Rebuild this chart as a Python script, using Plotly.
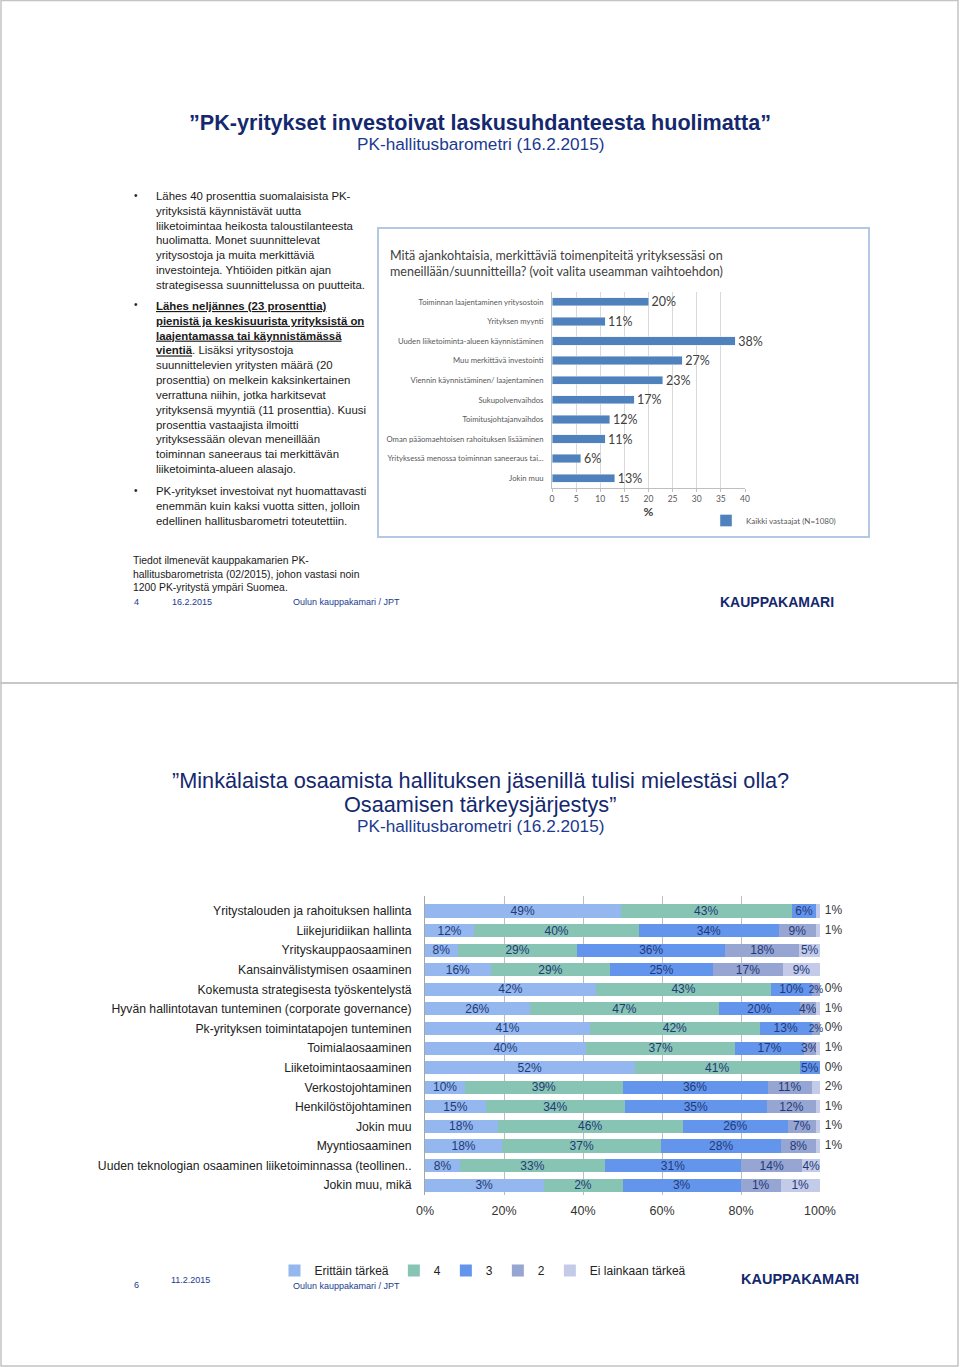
import plotly.graph_objects as go

W, H = 960, 1367

# --- chart 1: current measures ---
measures = [
    "Toiminnan laajentaminen yritysostoin",
    "Yrityksen myynti",
    "Uuden liiketoiminta-alueen käynnistäminen",
    "Muu merkittävä investointi",
    "Viennin käynnistäminen/ laajentaminen",
    "Sukupolvenvaihdos",
    "Toimitusjohtajanvaihdos",
    "Oman pääomaehtoisen rahoituksen lisääminen",
    "Yrityksessä menossa toiminnan saneeraus tai...",
    "Jokin muu",
]
measure_pct = [20, 11, 38, 27, 23, 17, 12, 11, 6, 13]

# --- chart 2: importance of board skills ---
skills = [
    "Yritystalouden ja rahoituksen hallinta",
    "Liikejuridiikan hallinta",
    "Yrityskauppaosaaminen",
    "Kansainvälistymisen osaaminen",
    "Kokemusta strategisesta työskentelystä",
    "Hyvän hallintotavan tunteminen (corporate governance)",
    "Pk-yrityksen toimintatapojen tunteminen",
    "Toimialaosaaminen",
    "Liiketoimintaosaaminen",
    "Verkostojohtaminen",
    "Henkilöstöjohtaminen",
    "Jokin muu",
    "Myyntiosaaminen",
    "Uuden teknologian osaaminen liiketoiminnassa (teollinen..",
    "Jokin muu, mikä",
]
levels = ["Erittäin tärkeä", "4", "3", "2", "Ei lainkaan tärkeä"]
very_important = [49, 12, 8, 16, 42, 26, 41, 40, 52, 10, 15, 18, 18, 8, 3]
imp_4 = [43, 40, 29, 29, 43, 47, 42, 37, 41, 39, 34, 46, 37, 33, 2]
imp_3 = [6, 34, 36, 25, 10, 20, 13, 17, 5, 36, 35, 26, 28, 31, 3]
imp_2 = [0, 9, 18, 17, 2, 4, 2, 3, 0, 11, 12, 7, 8, 14, 1]
not_important = [1, 1, 5, 9, 0, 1, 0, 1, 0, 2, 1, 1, 1, 4, 1]
level_colors = ["#93b7ee", "#88c4b3", "#6495ec", "#97a5d2", "#c3cbe9"]


def px(x):
    return x / W


def py(y):
    return 1 - y / H


BODY = "Liberation Sans, Arial, sans-serif"
NAVY = "#14286e"

fig = go.Figure()

fig.add_trace(go.Bar(
    x=measure_pct, y=measures, orientation="h",
    marker=dict(color="#4f81bd"), width=0.42,
    text=[f"{v}%" for v in measure_pct], textposition="outside", textangle=0,
    textfont=dict(family="Lato, Open Sans, sans-serif", size=12.5, color="#404040"),
    cliponaxis=False, constraintext="none",
    name="Kaikki vastaajat (N=1080)", legend="legend2",
    xaxis="x", yaxis="y",
))

# each row of chart 2 is drawn as shares of the row's answers (100 % stacked)
series = [very_important, imp_4, imp_3, imp_2, not_important]
row_totals = [sum(s[k] for s in series) for k in range(len(skills))]
# tiny last segments get their label to the right of the bar
label_outside = [v == 0 or (v <= 2 and t - v >= 90) for v, t in zip(not_important, row_totals)]

for i, (lvl, vals, col) in enumerate(zip(levels, series, level_colors)):
    last = i == len(levels) - 1
    shares = [v / t * 100 for v, t in zip(vals, row_totals)]
    labels = []
    for k, v in enumerate(vals):
        if v == 0 or (last and label_outside[k]):
            labels.append("")
        else:
            labels.append(f"{v}%")
    # very narrow segments get a slightly smaller label
    sizes = [10 if s < 2.5 else 12 for s in shares]
    fig.add_trace(go.Bar(
        x=shares, y=skills, orientation="h", name=lvl,
        marker=dict(color=col, line=dict(width=0)),
        text=labels, textposition="inside", insidetextanchor="middle", textangle=0,
        textfont=dict(family=BODY, size=sizes, color="#1f3a78"),
        constraintext="none", cliponaxis=False,
        legend="legend", xaxis="x2", yaxis="y2",
    ))

out_y = [s for s, o in zip(skills, label_outside) if o]
out_txt = [f"\u2009\u2009{v}%" for v, o in zip(not_important, label_outside) if o]
fig.add_trace(go.Scatter(
    x=[100] * len(out_y), y=out_y, mode="text", text=out_txt,
    textposition="middle right", cliponaxis=False, showlegend=False, hoverinfo="skip",
    textfont=dict(family=BODY, size=12, color="#333333"),
    xaxis="x2", yaxis="y2",
))

fig.update_layout(
    width=W, height=H,
    margin=dict(l=0, r=0, t=0, b=0, autoexpand=False),
    paper_bgcolor="white", plot_bgcolor="white",
    barmode="stack", bargap=0.33,
    font=dict(family=BODY, color="#222222"),
    xaxis=dict(
        domain=[px(552), px(745)], anchor="y", range=[0, 40], dtick=5,
        showgrid=True, gridcolor="#d9d9d9", gridwidth=1,
        showline=True, linecolor="#bfbfbf", zeroline=False,
        ticks="outside", ticklen=3, tickcolor="#bfbfbf",
        tickfont=dict(family="Lato, sans-serif", size=8.5, color="#595959"),
        title=dict(text="<b>%</b>", font=dict(family="Lato, sans-serif", size=12, color="#404040"),
                   standoff=2),
        automargin=False, fixedrange=True,
    ),
    yaxis=dict(
        domain=[py(488), py(292)], anchor="x", autorange="reversed",
        showline=True, linecolor="#bfbfbf",
        tickfont=dict(family="Lato, sans-serif", size=7.7, color="#595959"),
        ticks="", ticklabelstandoff=6, automargin=False,
    ),
    xaxis2=dict(
        domain=[px(425), px(820)], anchor="y2", range=[0, 100], dtick=20,
        ticksuffix="%", showgrid=True, gridcolor="#bdbdbd", gridwidth=1,
        showline=False, zeroline=False,
        tickfont=dict(family=BODY, size=12.5, color="#333333"),
        ticklabelstandoff=6, automargin=False,
    ),
    yaxis2=dict(
        domain=[py(1195), py(896)], anchor="x2", autorange="reversed",
        showline=True, linecolor="#a6a6a6",
        tickfont=dict(family=BODY, size=12.2, color="#222222"),
        ticks="", ticklabelstandoff=10, automargin=False,
    ),
    legend=dict(
        orientation="h", x=px(483), y=py(1256), xanchor="center", yanchor="top",
        font=dict(family=BODY, size=12, color="#222222"),
        itemwidth=30, traceorder="normal", bgcolor="rgba(0,0,0,0)",
    ),
    legend2=dict(
        orientation="h", x=px(706), y=py(506), xanchor="left", yanchor="top",
        font=dict(family="Lato, sans-serif", size=8, color="#595959"),
        itemwidth=30, bgcolor="rgba(0,0,0,0)",
    ),
    showlegend=True,
)

# slide frames and chart picture frame
shapes = [
    dict(type="rect", xref="paper", yref="paper", x0=px(1), x1=px(958), y0=py(683), y1=py(0.5),
         line=dict(color="#c4c4c4", width=1.5)),
    dict(type="rect", xref="paper", yref="paper", x0=px(1), x1=px(958), y0=py(1366), y1=py(683),
         line=dict(color="#c4c4c4", width=1.5)),
    dict(type="rect", xref="paper", yref="paper", x0=px(378), x1=px(869), y0=py(537), y1=py(228),
         line=dict(color="#b4c8e4", width=2)),
]
fig.update_layout(shapes=shapes)


def note(x, y, text, size, color="#222222", family=BODY, xanchor="left", yanchor="middle", align="left"):
    fig.add_annotation(x=px(x), y=py(y), xref="paper", yref="paper", text=text, showarrow=False,
                       xanchor=xanchor, yanchor=yanchor, align=align,
                       font=dict(size=size, color=color, family=family))


# slide 1 header
note(480, 122, "<b>”PK-yritykset investoivat laskusuhdanteesta huolimatta”</b>", 21.6, NAVY,
     xanchor="center")
note(480, 144, "PK-hallitusbarometri (16.2.2015)", 17.2, "#1b3a8f", xanchor="center")

# slide 1 bullets
bullet1 = ("Lähes 40 prosenttia suomalaisista PK-<br>yrityksistä käynnistävät uutta<br>"
           "liiketoimintaa heikosta taloustilanteesta<br>huolimatta. Monet suunnittelevat<br>"
           "yritysostoja ja muita merkittäviä<br>investointeja. Yhtiöiden pitkän ajan<br>"
           "strategisessa suunnittelussa on puutteita.")
bullet2 = ("<b><u>Lähes neljännes (23 prosenttia)</u></b><br>"
           "<b><u>pienistä ja keskisuurista yrityksistä on</u></b><br>"
           "<b><u>laajentamassa tai käynnistämässä</u></b><br>"
           "<b><u>vientiä</u></b>. Lisäksi yritysostoja<br>suunnittelevien yritysten määrä (20<br>"
           "prosenttia) on melkein kaksinkertainen<br>verrattuna niihin, jotka harkitsevat<br>"
           "yrityksensä myyntiä (11 prosenttia). Kuusi<br>prosenttia vastaajista ilmoitti<br>"
           "yrityksessään olevan meneillään<br>toiminnan saneeraus tai merkittävän<br>"
           "liiketoiminta-alueen alasajo.")
bullet3 = ("PK-yritykset investoivat nyt huomattavasti<br>enemmän kuin kaksi vuotta sitten, jolloin<br>"
           "edellinen hallitusbarometri toteutettiin.")
for top, txt in [(188, bullet1), (298, bullet2), (483, bullet3)]:
    note(132, top + 7, "•", 10, "#222222")
    note(154, top, txt, 11.4, "#1a1a1a", yanchor="top")

# chart 1 question
note(388, 263, "Mitä ajankohtaisia, merkittäviä toimenpiteitä yrityksessäsi on<br>"
     "meneillään/suunnitteilla? (voit valita useamman vaihtoehdon)", 12.55, "#404040",
     family="Lato, Open Sans, sans-serif")

# slide 1 footer
note(131, 553, "Tiedot ilmenevät kauppakamarien PK-<br>hallitusbarometrista (02/2015), johon vastasi noin<br>"
     "1200 PK-yritystä ympäri Suomea.", 10.4, "#1a1a1a", yanchor="top")
note(132, 602, "4", 9, "#1b3a8f")
note(170, 602, "16.2.2015", 9, "#1b3a8f")
note(291, 602, "Oulun kauppakamari / JPT", 9, "#1b3a8f")
note(836, 602, "<b>KAUPPAKAMARI</b>", 14, NAVY, xanchor="right")

# slide 2 header
note(480, 780, "”Minkälaista osaamista hallituksen jäsenillä tulisi mielestäsi olla?", 21.7, NAVY,
     xanchor="center")
note(480, 804, "Osaamisen tärkeysjärjestys”", 21.7, NAVY, xanchor="center")
note(480, 826, "PK-hallitusbarometri (16.2.2015)", 17.2, "#1b3a8f", xanchor="center")

# slide 2 footer
note(132, 1285, "6", 9, "#1b3a8f")
note(169, 1280, "11.2.2015", 9, "#1b3a8f")
note(291, 1286, "Oulun kauppakamari / JPT", 9, "#1b3a8f")
note(861, 1279, "<b>KAUPPAKAMARI</b>", 14.5, NAVY, xanchor="right")

fig.write_html("out.html", post_script="document.body.style.margin='0px';",
               config={"responsive": False, "displayModeBar": False})
